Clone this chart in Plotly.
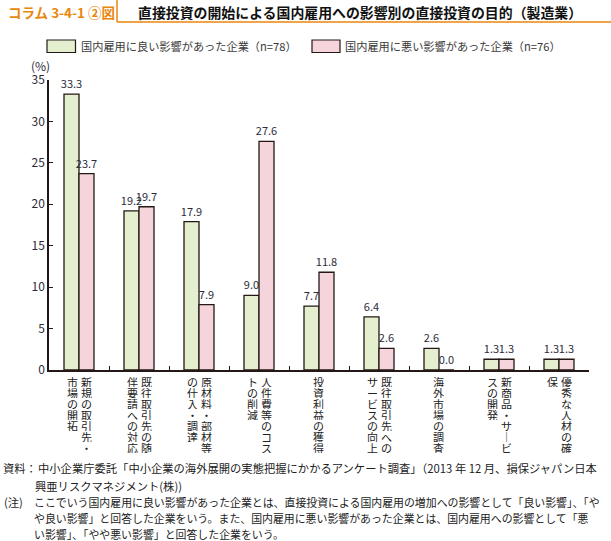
import plotly.graph_objects as go

categories = [
    "新規の取引先・市場の開拓",
    "既往取引先の随伴要請への対応",
    "原材料・部材等の仕入・調達",
    "人件費等のコストの削減",
    "投資利益の獲得",
    "既往取引先へのサービスの向上",
    "海外市場の調査",
    "新商品・サービスの開発",
    "優秀な人材の確保",
]
# vertical label columns (right column first, as in vertical Japanese writing)
label_columns = [
    ["新規の取引先・", "市場の開拓"],
    ["既往取引先の随", "伴要請への対応"],
    ["原材料・部材等", "の仕入・調達"],
    ["人件費等のコス", "トの削減"],
    ["投資利益の獲得"],
    ["既往取引先への", "サービスの向上"],
    ["海外市場の調査"],
    ["新商品・サ｜ビ", "スの開発"],
    ["優秀な人材の確", "保"],
]
series_names = ["国内雇用に良い影響があった企業（n=78）", "国内雇用に悪い影響があった企業（n=76）"]
good_values = [33.3, 19.2, 17.9, 9.0, 7.7, 6.4, 2.6, 1.3, 1.3]
bad_values = [23.7, 19.7, 7.9, 27.6, 11.8, 2.6, 0.0, 1.3, 1.3]
y_ticks = [0, 5, 10, 15, 20, 25, 30, 35]

FONT = "Noto Sans CJK JP"
TXT = "#2b2b3a"
EDGE = "#231815"
GREEN = "#E4EFD0"
PINK = "#F6D4DB"
ORANGE = "#E8870E"

fig = go.Figure()
for name, vals, col in [(series_names[0], good_values, GREEN), (series_names[1], bad_values, PINK)]:
    fig.add_trace(go.Bar(
        x=categories, y=vals, name=name,
        marker=dict(color=col, line=dict(color=EDGE, width=1.3)),
        text=[f"{v:.1f}" for v in vals], textposition="outside",
        textfont=dict(family=FONT, size=11, color=TXT),
        constraintext="none", cliponaxis=False, showlegend=False,
    ))

W, H = 611, 541
L, R, T, B = 49, 589, 80, 370

def px(x):
    return (x - L) / (R - L)

def py(y):
    return (B - y) / (B - T)

fig.update_layout(
    width=W, height=H,
    margin=dict(l=L, r=W - R, t=T, b=H - B),
    paper_bgcolor="white", plot_bgcolor="white",
    barmode="group", bargap=0.5, bargroupgap=0,
    font=dict(family=FONT, color=TXT, size=11),
    xaxis=dict(showticklabels=False, ticks="inside", tickson="boundaries", ticklen=4,
               tickcolor=EDGE, showline=True, linecolor=EDGE, linewidth=1.5,
               showgrid=False, zeroline=False),
    yaxis=dict(range=[0, 35], tickvals=y_ticks, ticks="inside", ticklen=4, tickcolor=EDGE,
               showline=True, linecolor=EDGE, linewidth=1.5, showgrid=False, zeroline=False,
               tickfont=dict(family=FONT, size=12, color=TXT)),
)

shapes = []
annotations = []

# header
shapes.append(dict(type="line", xref="paper", yref="paper", x0=px(117), x1=px(117), y0=py(0), y1=py(22),
                   line=dict(color=ORANGE, width=1.5)))
shapes.append(dict(type="line", xref="paper", yref="paper", x0=px(117), x1=px(W), y0=py(22), y1=py(22),
                   line=dict(color=ORANGE, width=1.5)))
annotations.append(dict(xref="paper", yref="paper", x=px(6), y=py(12), xanchor="left", yanchor="middle",
                        text="<b>コラム 3-4-1 ②図</b>", showarrow=False,
                        font=dict(family=FONT, size=13.5, color=ORANGE)))
annotations.append(dict(xref="paper", yref="paper", x=px(136), y=py(12), xanchor="left", yanchor="middle",
                        text="<b>直接投資の開始による国内雇用への影響別の直接投資の目的（製造業）</b>", showarrow=False,
                        font=dict(family=FONT, size=13.9, color="#111")))

# legend
for (x0, x1, tx), col, name in [((47, 75.5, 79), GREEN, series_names[0]), ((312, 340, 343), PINK, series_names[1])]:
    shapes.append(dict(type="rect", xref="paper", yref="paper", x0=px(x0), x1=px(x1), y0=py(52.5), y1=py(40),
                       fillcolor=col, line=dict(color=EDGE, width=1.2)))
    annotations.append(dict(xref="paper", yref="paper", x=px(tx), y=py(46.5), xanchor="left", yanchor="middle",
                            text=name, showarrow=False, font=dict(family=FONT, size=11.2, color="#3a3a3a")))

# (%) label
annotations.append(dict(xref="paper", yref="paper", x=px(40), y=py(65), xanchor="center", yanchor="middle",
                        text="(%)", showarrow=False, font=dict(family=FONT, size=12, color=TXT)))

# vertical category labels
for ci, cols in enumerate(label_columns):
    if len(cols) == 1:
        offsets = [-1]
    else:
        offsets = [7, -7]
    for col_text, off in zip(cols, offsets):
        for k, ch in enumerate(col_text):
            annotations.append(dict(x=categories[ci], xref="x", y=0, yref="paper",
                                    xshift=off, yshift=-(11 + 11 * k), xanchor="center", yanchor="middle",
                                    height=11, valign="middle",
                                    text=ch, showarrow=False,
                                    font=dict(family=FONT, size=11, color="#222")))

# notes
notes = [
    (1, 468, "資料：", 11.3),
    (36, 468, "中小企業庁委託「中小企業の海外展開の実態把握にかかるアンケート調査」（2013 年 12 月、損保ジャパン日本", 11.3),
    (33, 486, "興亜リスクマネジメント(株))", 11.3),
    (2, 502, "(注)", 11.3),
    (32, 502, "ここでいう国内雇用に良い影響があった企業とは、直接投資による国内雇用の増加への影響として「良い影響」、「や", 10.9),
    (32, 518, "や良い影響」と回答した企業をいう。また、国内雇用に悪い影響があった企業とは、国内雇用への影響として「悪", 10.9),
    (32, 534, "い影響」、「やや悪い影響」と回答した企業をいう。", 10.9),
]
for x, y, t, s in notes:
    annotations.append(dict(xref="paper", yref="paper", x=px(x), y=py(y), xanchor="left", yanchor="middle",
                            text=t, showarrow=False, font=dict(family=FONT, size=s, color="#222")))

fig.update_layout(shapes=shapes, annotations=annotations)
fig.write_html("out.html", config={"displayModeBar": False},
               post_script="document.body.style.margin='0';document.body.style.overflow='hidden';")
